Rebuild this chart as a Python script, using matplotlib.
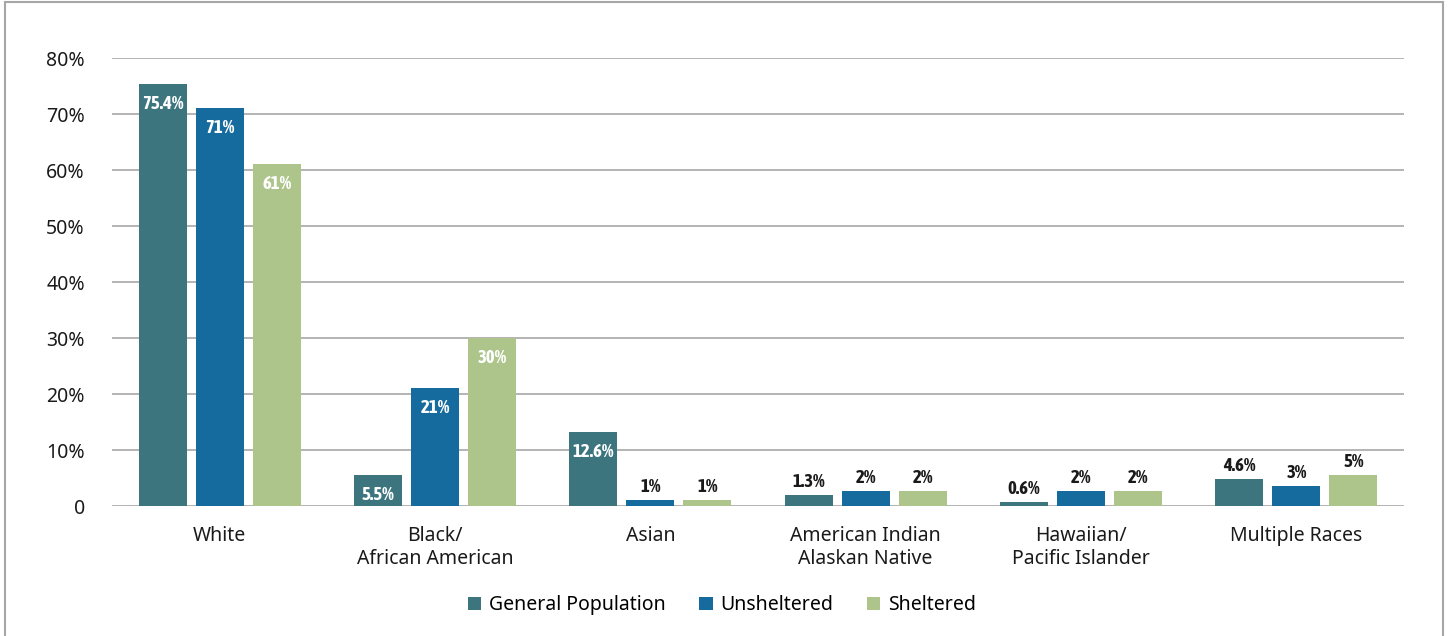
import matplotlib
matplotlib.use("Agg")
import matplotlib.pyplot as plt
from matplotlib.patches import Rectangle
from matplotlib import font_manager
import numpy as np

categories = ["White", "Black/\nAfrican American", "Asian",
              "American Indian\nAlaskan Native", "Hawaiian/\nPacific Islander", "Multiple Races"]
series_names = ["General Population", "Unsheltered", "Sheltered"]
general_pop = [75.4, 5.5, 13.2, 1.9, 0.7, 4.8]
unsheltered = [71.0, 21.0, 1.1, 2.7, 2.7, 3.6]
sheltered = [61.1, 30.0, 1.1, 2.7, 2.7, 5.5]
general_pop_labels = ["75.4%", "5.5%", "12.6%", "1.3%", "0.6%", "4.6%"]
unsheltered_labels = ["71%", "21%", "1%", "2%", "2%", "3%"]
sheltered_labels = ["61%", "30%", "1%", "2%", "2%", "5%"]
yticks = [0, 10, 20, 30, 40, 50, 60, 70, 80]
ytick_labels = ["0", "10%", "20%", "30%", "40%", "50%", "60%", "70%", "80%"]

colors = ["#3d757f", "#166b9e", "#adc58a"]
font = ["Noto Sans", "DejaVu Sans"]

# choose a condensed bold face for the value labels if one is installed
label_props = dict(family=["Roboto", "DejaVu Sans"], fontsize=11, fontweight="bold")
for f in font_manager.fontManager.ttflist:
    nm = f.name
    if ("Narrow" in nm or "Condensed" in nm) and f.weight in ("bold", 700):
        label_props = dict(family=[nm, "DejaVu Sans"], fontsize=13.5, fontweight="bold")
        break
else:
    for f in font_manager.fontManager.ttflist:
        if f.name == "DejaVu Sans" and f.stretch in ("condensed", "semi-condensed") and f.weight in ("bold", 700):
            label_props = dict(family=["DejaVu Sans"], fontsize=12, fontweight="bold",
                               fontstretch="condensed")
            break

W, H = 1450, 636
fig = plt.figure(figsize=(W / 100, H / 100), dpi=100)
ax = fig.add_axes([112 / W, 1 - 506 / H, (1404 - 112) / W, (506 - 58) / H])

x = np.arange(len(categories))
width = 0.223
offset = 0.265
series = [general_pop, unsheltered, sheltered]
labels = [general_pop_labels, unsheltered_labels, sheltered_labels]
handles = []
for i, (vals, labs) in enumerate(zip(series, labels)):
    pos = x + (i - 1) * offset
    bars = ax.bar(pos, vals, width=width, color=colors[i], zorder=3, label=series_names[i])
    handles.append(bars)
    for xp, v, lab in zip(pos, vals, labs):
        num = float(lab.strip('%'))
        if num >= 5.5:
            ax.annotate(lab, (xp, v), xytext=(0, -20), textcoords="offset pixels",
                        ha="center", va="center", color="white", zorder=4, **label_props)
        else:
            ax.annotate(lab, (xp, v), xytext=(0, 4), textcoords="offset pixels",
                        ha="center", va="bottom", color="#1a1a1a", zorder=4, **label_props)

ax.set_xlim(-0.5, len(categories) - 0.5)
ax.set_ylim(0, 80)
ax.set_yticks(yticks)
ax.set_yticklabels(ytick_labels, family=font, fontsize=14, color="#1a1a1a")
ax.set_xticks(x)
ax.set_xticklabels(categories, family=font, fontsize=14, color="#1a1a1a", linespacing=1.22)
ax.tick_params(axis="both", length=0)
ax.tick_params(axis="y", pad=19.5)
ax.tick_params(axis="x", pad=14.5)
for sp in ax.spines.values():
    sp.set_visible(False)
ax.yaxis.grid(True, color="#b3b3b3", linewidth=1.4, zorder=0)
ax.set_axisbelow(True)

leg = fig.legend(handles=handles, labels=series_names, loc="center",
                 bbox_to_anchor=(722 / W, 1 - 605 / H), ncol=3, frameon=False,
                 prop={"family": font, "size": 14}, handlelength=0.68, handleheight=0.68,
                 handletextpad=0.42, columnspacing=1.7)

fig.patches.append(Rectangle((5 / W, -0.01), (1443 - 5) / W, 1.01 - 2 / H,
                             transform=fig.transFigure, fill=False,
                             edgecolor="#a6a6a6", linewidth=1.5))

fig.savefig("out.png", dpi=100)
